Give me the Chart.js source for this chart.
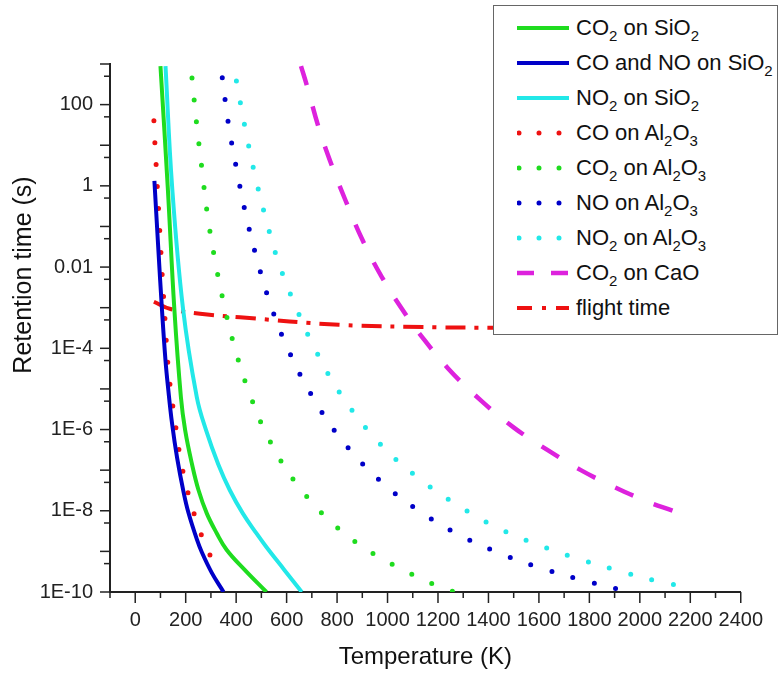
<!DOCTYPE html>
<html lang="en">
<head>
<meta charset="UTF-8">
<title>Retention time vs temperature</title>
<script src="https://cdn.jsdelivr.net/npm/chart.js"></script>
<style>
    body { margin: 0; background: #fff; font-family: "Liberation Sans", Arial, sans-serif; }
    .quadro { position: relative; width: 779px; height: 678px; }
    .legenda {
        position: absolute; left: 493px; top: 5px; width: 285px; height: 330px;
        border: 1.5px solid #666; background: #fff; box-sizing: border-box;
    }
    .item { position: absolute; left: 0; height: 35px; display: flex; align-items: center; color: #111; font-size: 22px; white-space: nowrap; }
    .item svg { margin-left: 23px; margin-right: 7px; }
    .item sub { font-size: 15px; vertical-align: -6px; line-height: 0; }
</style>
</head>
<body>
<div class="quadro">
    <canvas id="grafico" width="779" height="678"></canvas>
    <div class="legenda" id="legenda"></div>
</div>

<script>
// temperaturas (K) e tempos de retencao (s)
const co2SiO2T   = [100, 129, 155, 181, 198, 225, 251, 284, 323, 362, 434, 520];
const co2SiO2Tau = [890, 0.91, 9.3e-4, 6.3e-6, 9.5e-7, 1.4e-7, 3.2e-8, 8.5e-9, 2.8e-9, 1.1e-9, 3.5e-10, 1.0e-10];

const coNoSiO2T   = [76, 91, 107, 120, 130, 146, 166, 192, 211, 244, 264, 303, 350];
const coNoSiO2Tau = [1.32, 3.2e-2, 7.1e-4, 5.0e-5, 1.1e-5, 1.4e-6, 2.0e-7, 2.8e-8, 8.9e-9, 2.0e-9, 9.5e-10, 3.0e-10, 1.0e-10];

const no2SiO2T   = [120, 146, 189, 244, 281, 329, 375, 427, 480, 519, 591, 660];
const no2SiO2Tau = [890, 1.0, 1.0e-3, 6.3e-6, 9.5e-7, 1.4e-7, 3.2e-8, 8.5e-9, 2.8e-9, 1.3e-9, 3.5e-10, 1.0e-10];

const coAl2O3T   = [74, 78, 83, 88, 93, 98, 103, 108, 114, 119, 124, 131, 141, 153, 166, 179, 198, 221, 251, 286, 333];
const coAl2O3Tau = [40, 11, 3.1, 0.83, 0.23, 6.3e-2, 1.7e-2, 4.8e-3, 1.3e-3, 4.0e-4, 1.2e-4, 3.2e-5, 8.7e-6, 2.5e-6, 6.8e-7, 1.9e-7, 5.4e-8, 1.5e-8, 4.0e-9, 1.1e-9, 3.2e-10];

const co2Al2O3T   = [225, 243, 264, 286, 316, 352, 395, 454, 530, 641, 794, 952, 1030, 1109, 1187, 1266];
const co2Al2O3Tau = [450, 35, 2.7, 0.2, 1.5e-2, 1.2e-3, 1.0e-4, 7.4e-6, 5.8e-7, 4.5e-8, 4.2e-9, 8.1e-10, 4.4e-10, 2.5e-10, 1.5e-10, 1.0e-10];

const noAl2O3T   = [345, 369, 401, 438, 483, 536, 604, 696, 814, 969, 1124, 1282, 1439, 1596, 1753, 1910];
const noAl2O3Tau = [460, 35, 2.7, 0.2, 1.5e-2, 1.2e-3, 1.0e-4, 7.6e-6, 6.0e-7, 5.6e-8, 1.0e-8, 2.6e-9, 9.3e-10, 4.1e-10, 2.1e-10, 1.2e-10];

const no2Al2O3T   = [401, 434, 471, 515, 568, 635, 715, 820, 963, 1119, 1276, 1433, 1591, 1748, 1905, 2062, 2218];
const no2Al2O3Tau = [380, 30, 2.3, 0.18, 1.3e-2, 1.1e-3, 8.9e-5, 6.6e-6, 5.0e-7, 6.6e-8, 1.4e-8, 3.9e-9, 1.5e-9, 6.8e-10, 3.5e-10, 1.9e-10, 1.2e-10];

const co2CaOT   = [657, 683, 725, 775, 834, 899, 978, 1070, 1122, 1240, 1373, 1502, 1635, 1766, 1897, 2028, 2130];
const co2CaOTau = [890, 260, 30, 3.7, 0.43, 4.9e-2, 5.6e-3, 7.1e-4, 2.5e-4, 3.2e-5, 5.0e-6, 1.1e-6, 3.1e-7, 1.0e-7, 3.9e-8, 1.7e-8, 1.0e-8];

const voooT   = [74, 140, 257, 415, 807, 1200, 1420];
const voooTau = [1.4e-3, 9.3e-4, 7.1e-4, 5.8e-4, 3.8e-4, 3.3e-4, 3.2e-4];

// eixos
const xTicks = [0, 200, 400, 600, 800, 1000, 1200, 1400, 1600, 1800, 2000, 2200, 2400];
const yTicks = [1e-10, 1e-8, 1e-6, 1e-4, 1e-2, 1, 100];
const yTickLabels = ['1E-10', '1E-8', '1E-6', '1E-4', '0.01', '1', '100'];

const FONTE = '"Liberation Sans", Arial, sans-serif';
const VERDE = '#1fdc1f', AZUL = '#0000c8', CIANO = '#22e8e8', VERMELHO = '#ee1111', MAGENTA = '#dd22dd';

function serie(rotulo, temps, taus, cor, largura, tracejado, ponta) {
    return {
        label: rotulo,
        data: temps.map((t, i) => ({ x: t, y: taus[i] })),
        borderColor: cor,
        borderWidth: largura,
        borderDash: tracejado,
        borderCapStyle: ponta,
        pointRadius: 0,
        fill: false,
        tension: 0.4
    };
}

const PONTOS = [0, 22];
const datasets = [
    serie('CO2 on SiO2', co2SiO2T, co2SiO2Tau, VERDE, 4, [], 'butt'),
    serie('CO and NO on SiO2', coNoSiO2T, coNoSiO2Tau, AZUL, 4, [], 'butt'),
    serie('NO2 on SiO2', no2SiO2T, no2SiO2Tau, CIANO, 4, [], 'butt'),
    serie('CO on Al2O3', coAl2O3T, coAl2O3Tau, VERMELHO, 5, PONTOS, 'round'),
    serie('CO2 on Al2O3', co2Al2O3T, co2Al2O3Tau, VERDE, 5, PONTOS, 'round'),
    serie('NO on Al2O3', noAl2O3T, noAl2O3Tau, AZUL, 5, PONTOS, 'round'),
    serie('NO2 on Al2O3', no2Al2O3T, no2Al2O3Tau, CIANO, 5, PONTOS, 'round'),
    serie('CO2 on CaO', co2CaOT, co2CaOTau, MAGENTA, 4.5, [20, 22], 'butt'),
    serie('flight time', voooT, voooTau, VERMELHO, 4, [20, 9, 4, 9], 'butt')
];

// marcas dos eixos e titulo do eixo y
const marcasEixos = {
    id: 'marcasEixos',
    afterDraw(chart) {
        const ctx = chart.ctx;
        const x = chart.scales.x, y = chart.scales.y;
        ctx.save();
        ctx.strokeStyle = '#222';
        ctx.lineWidth = 1.5;
        for (let v = -100; v <= 2400; v += 100) {
            const px = x.getPixelForValue(v);
            const len = v % 200 === 0 ? 11 : 6;
            ctx.beginPath();
            ctx.moveTo(px, y.bottom);
            ctx.lineTo(px, y.bottom + len);
            ctx.stroke();
        }
        for (let e = -10; e <= 3; e++) {
            let py = y.getPixelForValue(Math.pow(10, e));
            ctx.beginPath();
            ctx.moveTo(x.left, py);
            ctx.lineTo(x.left - 10, py);
            ctx.stroke();
            if (e < 3) {
                py = y.getPixelForValue(5 * Math.pow(10, e));
                ctx.beginPath();
                ctx.moveTo(x.left, py);
                ctx.lineTo(x.left - 6, py);
                ctx.stroke();
            }
        }
        ctx.translate(24, 275);
        ctx.rotate(-Math.PI / 2);
        ctx.fillStyle = '#111';
        ctx.font = '25px ' + FONTE;
        ctx.textAlign = 'center';
        ctx.textBaseline = 'middle';
        ctx.fillText('Retention time (s)', 0, 0);
        ctx.restore();
    }
};

const config = {
    type: 'line',
    data: { datasets: datasets },
    options: {
        responsive: false,
        animation: false,
        devicePixelRatio: 1,
        layout: { padding: { top: 64, right: 33.5, bottom: 0, left: 0 } },
        plugins: { legend: { display: false }, tooltip: { enabled: false } },
        scales: {
            x: {
                type: 'linear',
                min: -100,
                max: 2400,
                afterBuildTicks: (s) => { s.ticks = xTicks.map(v => ({ value: v })); },
                afterFit: (s) => { s.height = 86; },
                grid: { display: false, drawTicks: false },
                border: { display: true, color: '#222', width: 2 },
                ticks: {
                    color: '#222', padding: 16, maxRotation: 0, autoSkip: false, font: { family: FONTE, size: 20 },
                    callback: (v) => String(v)
                },
                title: { display: true, text: 'Temperature (K)', color: '#111', padding: { top: 0, bottom: 6 }, font: { family: FONTE, size: 24 } }
            },
            y: {
                type: 'logarithmic',
                min: 1e-10,
                max: 1000,
                afterBuildTicks: (s) => { s.ticks = yTicks.map(v => ({ value: v })); },
                afterFit: (s) => { s.width = 110; },
                grid: { display: false, drawTicks: false },
                border: { display: true, color: '#222', width: 2 },
                ticks: {
                    color: '#222', padding: 17, autoSkip: false, font: { family: FONTE, size: 20 },
                    callback: (v) => { const i = yTicks.indexOf(v); return i >= 0 ? yTickLabels[i] : ''; }
                }
            }
        }
    },
    plugins: [marcasEixos]
};

new Chart(document.getElementById('grafico'), config);

// legenda em HTML (fica por cima da area do grafico, como no original)
const legendaTextos = [
    'CO<sub>2</sub> on SiO<sub>2</sub>',
    'CO and NO on SiO<sub>2</sub>',
    'NO<sub>2</sub> on SiO<sub>2</sub>',
    'CO on Al<sub>2</sub>O<sub>3</sub>',
    'CO<sub>2</sub> on Al<sub>2</sub>O<sub>3</sub>',
    'NO on Al<sub>2</sub>O<sub>3</sub>',
    'NO<sub>2</sub> on Al<sub>2</sub>O<sub>3</sub>',
    'CO<sub>2</sub> on CaO',
    'flight time'
];

function amostra(ds) {
    const dash = ds.borderDash.length ? ds.borderDash.join(' ') : 'none';
    let x1 = 0, x2 = 52;
    if (ds.borderCapStyle === 'round') { x1 = 2; x2 = 44; }
    return '<svg width="52" height="12"><line x1="' + x1 + '" y1="6" x2="' + x2 + '" y2="6" stroke="' + ds.borderColor +
        '" stroke-width="' + ds.borderWidth + '" stroke-dasharray="' + (ds.borderCapStyle === 'round' ? '0 20' : (dash === '20 22' ? '17 17' : (dash === '20 9 4 9' ? '15 10 4 10' : dash))) +
        '" stroke-linecap="' + ds.borderCapStyle + '"/></svg>';
}

const legenda = document.getElementById('legenda');
datasets.forEach((ds, i) => {
    const div = document.createElement('div');
    div.className = 'item';
    div.style.top = (4 + i * 35) + 'px';
    div.innerHTML = amostra(ds) + '<span>' + legendaTextos[i] + '</span>';
    legenda.appendChild(div);
});
</script>
</body>
</html>
